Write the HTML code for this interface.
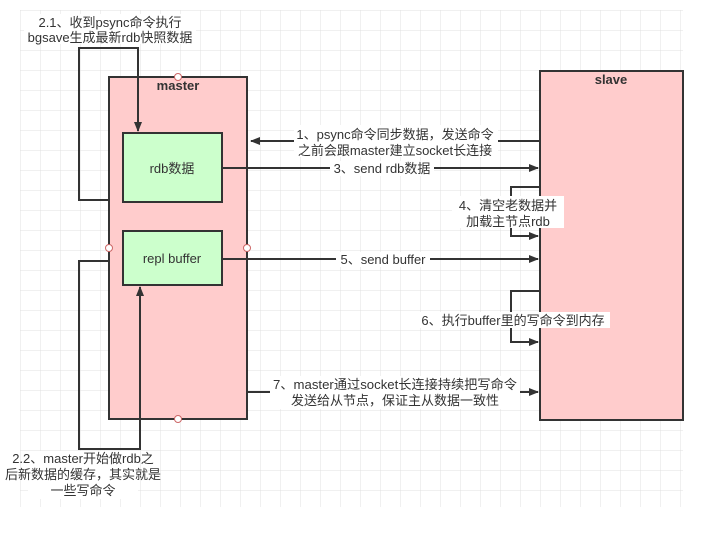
<!DOCTYPE html>
<html><head><meta charset="utf-8"><style>
html,body{margin:0;padding:0;background:#fff;}
svg{display:block;}
text{font-family:"Liberation Sans","Noto Sans CJK SC",sans-serif;font-size:13px;fill:#333;}
</style></head><body>
<svg width="707" height="534" viewBox="0 0 707 534" xmlns="http://www.w3.org/2000/svg">
<defs>
<pattern id="g" width="20" height="20" patternUnits="userSpaceOnUse" x="20" y="10">
<path d="M0 0H20M0 0V20" stroke="#e0e0e0" stroke-width="1" fill="none"/>
</pattern>
<marker id="a" markerWidth="10" markerHeight="8" refX="9" refY="4" orient="auto" markerUnits="userSpaceOnUse">
<path d="M0 0L10 4L0 8Z" fill="#333"/>
</marker>
</defs>
<rect x="20" y="10" width="663" height="497" fill="url(#g)"/>
<g stroke="#333" stroke-width="2" fill="none">
<rect x="109" y="77" width="138" height="342" fill="#ffcccc"/>
<rect x="540" y="71" width="143" height="349" fill="#ffcccc"/>
<rect x="123" y="133" width="99" height="69" fill="#ccffcc"/>
<rect x="123" y="231" width="99" height="54" fill="#ccffcc"/>
<path d="M109 200H79V48H138V131" marker-end="url(#a)"/>
<path d="M109 261H79V449H140V287" marker-end="url(#a)"/>
<path d="M540 141H251" marker-end="url(#a)"/>
<path d="M222 168H538" marker-end="url(#a)"/>
<path d="M540 187H511V236H538" marker-end="url(#a)"/>
<path d="M222 259H538" marker-end="url(#a)"/>
<path d="M540 291H511V342H538" marker-end="url(#a)"/>
<path d="M247 392H538" marker-end="url(#a)"/>
</g>
<g fill="#fff" stroke="#c66" stroke-width="1">
<circle cx="178" cy="77" r="3.5"/><circle cx="109" cy="248" r="3.5"/><circle cx="247" cy="248" r="3.5"/><circle cx="178" cy="419" r="3.5"/>
</g>
<g fill="#fff">
<rect x="294" y="125" width="204" height="32"/>
<rect x="330" y="161" width="104" height="15"/>
<rect x="452" y="196" width="112" height="32"/>
<rect x="336" y="252" width="94" height="15"/>
<rect x="416" y="312" width="194" height="16"/>
<rect x="270" y="376" width="250" height="33"/>
<rect x="24" y="14" width="172" height="30"/>
<rect x="28" y="451" width="110" height="48"/>
</g>
<text x="178" y="90" text-anchor="middle" font-weight="bold">master</text>
<text x="611" y="84" text-anchor="middle" font-weight="bold">slave</text>
<text x="172" y="173" text-anchor="middle">rdb数据</text>
<text x="172" y="263" text-anchor="middle">repl buffer</text>
<text x="110" y="27" text-anchor="middle">2.1、收到psync命令执行</text>
<text x="110" y="42" text-anchor="middle">bgsave生成最新rdb快照数据</text>
<text x="395" y="139" text-anchor="middle">1、psync命令同步数据，发送命令</text>
<text x="395" y="155" text-anchor="middle">之前会跟master建立socket长连接</text>
<text x="382" y="173" text-anchor="middle">3、send rdb数据</text>
<text x="508" y="210" text-anchor="middle">4、清空老数据并</text>
<text x="508" y="226" text-anchor="middle">加载主节点rdb</text>
<text x="383" y="264" text-anchor="middle">5、send buffer</text>
<text x="513" y="325" text-anchor="middle">6、执行buffer里的写命令到内存</text>
<text x="395" y="389" text-anchor="middle" textLength="244" lengthAdjust="spacingAndGlyphs">7、master通过socket长连接持续把写命令</text>
<text x="395" y="405" text-anchor="middle">发送给从节点，保证主从数据一致性</text>
<text x="83" y="463" text-anchor="middle">2.2、master开始做rdb之</text>
<text x="83" y="479" text-anchor="middle" textLength="156" lengthAdjust="spacingAndGlyphs">后新数据的缓存，其实就是</text>
<text x="83" y="495" text-anchor="middle">一些写命令</text>
</svg>
</body></html>
